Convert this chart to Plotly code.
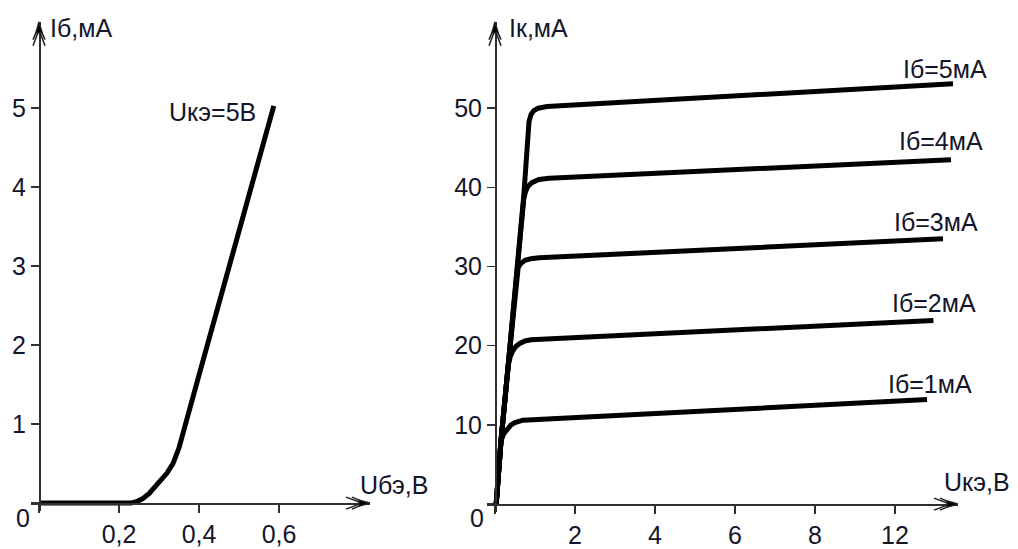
import plotly.graph_objects as go

# ---------------- data ----------------
# Left: input characteristic Iб(Uбэ) at Uкэ = 5 В
ube = [0.0, 0.10, 0.20, 0.23, 0.245, 0.26, 0.275, 0.29, 0.305, 0.32, 0.335, 0.35, 0.40, 0.50, 0.587]
ib = [0.0, 0.0, 0.0, 0.0, 0.02, 0.06, 0.12, 0.20, 0.29, 0.38, 0.50, 0.70, 1.62, 3.45, 5.03]
left_curve_label = "Uкэ=5В"

# Right: output characteristics Iк(Uкэ) for several Iб
uce_1 = [0.03, 0.15, 0.22, 0.30, 0.40, 0.50, 0.70, 10.8]
ik_1 = [0.0, 8.0, 8.9, 9.5, 10.0, 10.3, 10.6, 13.2]
uce_2 = [0.03, 0.15, 0.33, 0.38, 0.45, 0.52, 0.62, 0.75, 0.90, 10.96]
ik_2 = [0.0, 8.0, 17.5, 18.6, 19.4, 19.9, 20.3, 20.6, 20.75, 23.2]
uce_3 = [0.03, 0.15, 0.33, 0.54, 0.58, 0.65, 0.75, 0.90, 1.10, 11.2]
ik_3 = [0.0, 8.0, 17.5, 29.3, 29.9, 30.4, 30.8, 31.0, 31.1, 33.5]
uce_4 = [0.03, 0.15, 0.33, 0.54, 0.72, 0.76, 0.82, 0.92, 1.10, 1.35, 11.4]
ik_4 = [0.0, 8.0, 17.5, 29.3, 38.6, 39.4, 40.1, 40.6, 41.0, 41.15, 43.5]
uce_5 = [0.03, 0.15, 0.33, 0.54, 0.72, 0.85, 0.90, 0.97, 1.08, 1.30, 11.45]
ik_5 = [0.0, 8.0, 17.5, 29.3, 39.0, 48.3, 49.2, 49.7, 50.0, 50.2, 53.1]
series_labels = ["Iб=1мА", "Iб=2мА", "Iб=3мА", "Iб=4мА", "Iб=5мА"]

left_xticks = [0, 0.2, 0.4, 0.6]
left_xticktext = ["", "0,2", "0,4", "0,6"]
left_yticks = [0, 1, 2, 3, 4, 5]
left_yticktext = ["", "1", "2", "3", "4", "5"]
right_xticks = [0, 2, 4, 6, 8, 10]
right_xticktext = ["", "2", "4", "6", "8", "12"]
right_yticks = [0, 10, 20, 30, 40, 50]
right_yticktext = ["", "10", "20", "30", "40", "50"]

# ---------------- layout geometry (pixels) ----------------
W, H = 1018, 549
FONT = "Liberation Sans, Arial, sans-serif"
TXT = "#14142a"
FS = 25
TEXT_DY = 3  # visual baseline correction for annotations

def px2paper_x(px):
    return px / W

def px2paper_y(py):
    return 1 - py / H

# left plot: origin px, px per unit, extents
L_ox, L_oy, L_sx, L_sy = 39.0, 511.5, 400.0, 80.3
L_x0px, L_x1px, L_y0px, L_y1px = 31.0, 370.0, 519.5, 22.0
# right plot
R_ox, R_oy, R_sx, R_sy = 495.0, 512.5, 40.0, 8.05
R_x0px, R_x1px, R_y0px, R_y1px = 487.0, 958.0, 520.5, 22.0

def rng_x(ox, sx, p0, p1):
    return [(p0 - ox) / sx, (p1 - ox) / sx]

def rng_y(oy, sy, p0, p1):
    return [(oy - p0) / sy, (oy - p1) / sy]

fig = go.Figure()
line_style = dict(color="black", width=5)
fig.add_trace(go.Scatter(x=ube, y=ib, mode="lines", line=line_style, xaxis="x", yaxis="y",
                         hoverinfo="skip"))
for xs, ys in [(uce_1, ik_1), (uce_2, ik_2), (uce_3, ik_3), (uce_4, ik_4), (uce_5, ik_5)]:
    fig.add_trace(go.Scatter(x=xs, y=ys, mode="lines", line=line_style, xaxis="x2", yaxis="y2",
                             hoverinfo="skip"))

axis_common = dict(showgrid=False, zeroline=False, showline=True, linecolor="#303030",
                   linewidth=1.5, ticks="outside", ticklen=8, tickwidth=1.5, tickcolor="#303030",
                   tickfont=dict(family=FONT, size=FS, color=TXT), fixedrange=True)

fig.update_layout(
    width=W, height=H, margin=dict(l=0, r=0, t=0, b=0),
    paper_bgcolor="white", plot_bgcolor="white", showlegend=False,
    xaxis=dict(axis_common, domain=[px2paper_x(L_x0px), px2paper_x(L_x1px)],
               range=rng_x(L_ox, L_sx, L_x0px, L_x1px), anchor="free",
               position=px2paper_y(L_oy), tickvals=left_xticks, ticktext=left_xticktext),
    yaxis=dict(axis_common, domain=[px2paper_y(L_y0px), px2paper_y(L_y1px)],
               range=rng_y(L_oy, L_sy, L_y0px, L_y1px), anchor="free",
               position=px2paper_x(L_ox), tickvals=left_yticks, ticktext=left_yticktext),
    xaxis2=dict(axis_common, domain=[px2paper_x(R_x0px), px2paper_x(R_x1px)],
                range=rng_x(R_ox, R_sx, R_x0px, R_x1px), anchor="free",
                position=px2paper_y(R_oy), tickvals=right_xticks, ticktext=right_xticktext),
    yaxis2=dict(axis_common, domain=[px2paper_y(R_y0px), px2paper_y(R_y1px)],
                range=rng_y(R_oy, R_sy, R_y0px, R_y1px), anchor="free",
                position=px2paper_x(R_ox), tickvals=right_yticks, ticktext=right_yticktext),
)

def label(text, cx, cy, xanchor="center"):
    fig.add_annotation(text=text, x=px2paper_x(cx), y=px2paper_y(cy + TEXT_DY),
                       xref="paper", yref="paper",
                       showarrow=False, xanchor=xanchor, yanchor="middle",
                       font=dict(family=FONT, size=FS, color=TXT))

# axis titles
label("Iб,мА", 48, 25, "left")
label("Uбэ,В", 358, 490, "left")
label("Iк,мА", 507, 25, "left")
label("Uкэ,В", 942, 487, "left")
# origin zeros
label("0", 22.5, 524)
label("0", 477, 524)
# curve labels
label(left_curve_label, 212, 111)
for txt, (cx, cy) in zip(series_labels, [(930, 387), (934, 305), (936, 223), (941, 140), (945, 67)]):
    label(txt, cx, cy)

# arrowheads (pixel-sized paths anchored at axis tips)
def arrow(xref, yref, xa, ya, horizontal):
    if horizontal:
        paths = ["M -24,-6 L -8,0 L -24,6", "M -18,-6 L -4,0 L -18,6", "M -11,-3 L 0,0 L -11,3 Z"]
    else:
        paths = ["M -6,-24 L 0,-8 L 6,-24", "M -6,-18 L 0,-4 L 6,-18", "M -3,-11 L 0,0 L 3,-11 Z"]
    for i, p in enumerate(paths):
        fig.add_shape(type="path", path=p, xref=xref, yref=yref, xsizemode="pixel",
                      ysizemode="pixel", xanchor=xa, yanchor=ya,
                      line=dict(color="#202020", width=1.5),
                      fillcolor="#000000" if i == 2 else None)

lxr = rng_x(L_ox, L_sx, L_x0px, L_x1px)
lyr = rng_y(L_oy, L_sy, L_y0px, L_y1px)
rxr = rng_x(R_ox, R_sx, R_x0px, R_x1px)
ryr = rng_y(R_oy, R_sy, R_y0px, R_y1px)
arrow("x", "y", lxr[1], 0, True)
arrow("x", "y", 0, lyr[1], False)
arrow("x2", "y2", rxr[1], 0, True)
arrow("x2", "y2", 0, ryr[1], False)

fig.write_html("out.html", config={"displayModeBar": False, "staticPlot": True},
               post_script="document.body.style.margin='0';document.body.style.overflow='hidden';")
